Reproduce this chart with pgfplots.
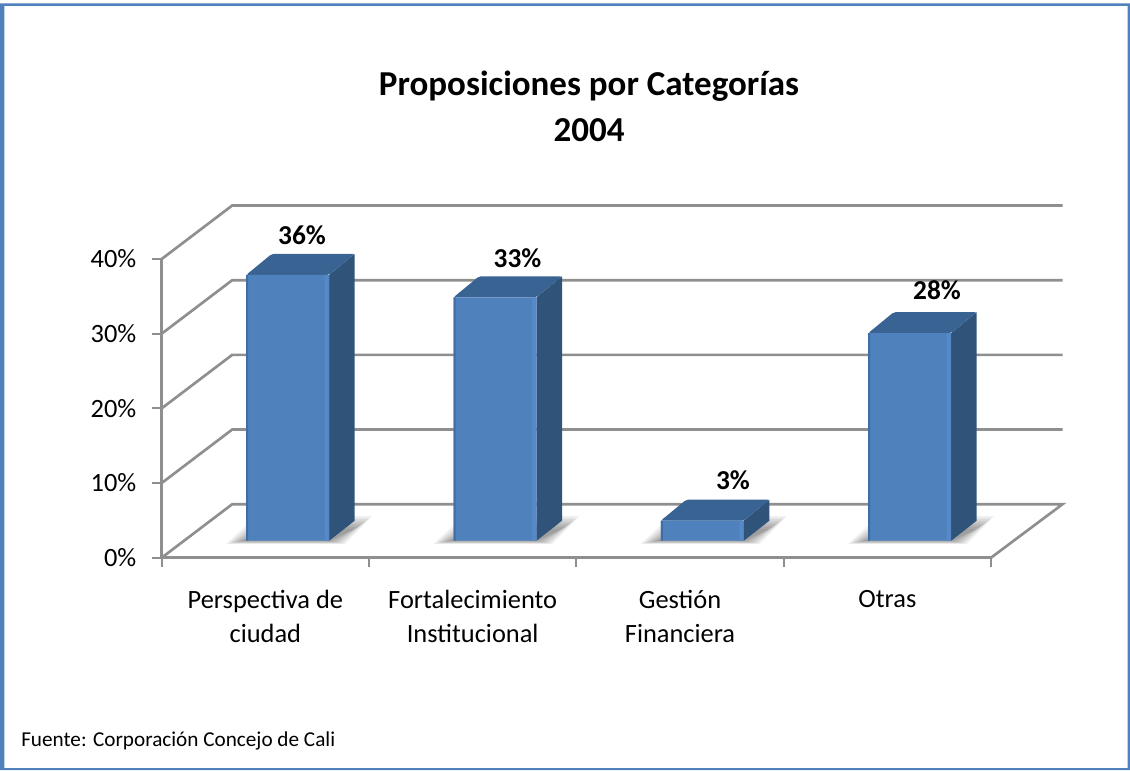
\documentclass[border=0pt]{standalone}
\usepackage{fontspec}
\setmainfont{Carlito}
\usepackage{pgfplots}
\usepackage{pgfplotstable}
\pgfplotsset{compat=1.18}
\definecolor{framec}{HTML}{4F81BD}
\definecolor{frontc}{HTML}{4F81BD}
\definecolor{sidec}{HTML}{30537A}
\definecolor{topc}{HTML}{396392}
\definecolor{darkedge}{HTML}{3F6DA5}
\definecolor{lightedge}{HTML}{5589C8}
\definecolor{gridc}{HTML}{8F8F8F}
\pgfplotstableread{
x v
0.5 35.6
1.5 32.6
2.5 2.7
3.5 27.8
}\barvals
\newcommand\pxc[2]{([shift={({(#1-161.7)*0.75pt},{(557.7-(#2))*0.75pt})}]axis cs:0,0)}
\newcommand\shlayer[2]{\fill[black,fill opacity=0.05] \pxc{#1+226+#2}{544-0.2*#2} -- \pxc{#1+345-#2}{544-0.2*#2} -- \pxc{#1+372-#2}{516+0.8*#2} -- \pxc{#1+256+#2}{516+0.8*#2} -- cycle;}
\newcommand\shadowbar[1]{\shlayer{#1}{0}\shlayer{#1}{2}\shlayer{#1}{4}\shlayer{#1}{6}\shlayer{#1}{8}\shlayer{#1}{10}\shlayer{#1}{12}\shlayer{#1}{14}\shlayer{#1}{16}}
\begin{document}
\begin{tikzpicture}
\begin{axis}[
  scale only axis, width=621.975pt, height=224.025pt,
  xmin=0, xmax=4, ymin=0, ymax=40, clip=false,
  axis x line*=bottom, axis y line*=left,
  axis line style={draw=gridc, line width=2pt, -},
  tick align=outside,
  major tick length=7pt,
  tick style={draw=gridc, line width=1.5pt},
  xtick={0,1,2,3,4},
  x tick label as interval,
  xticklabels={{Perspectiva de\\ciudad},{Fortalecimiento\\Institucional},{Gestión\\Financiera},{Otras}},
  xticklabel style={align=center, font=\fontsize{19.8}{25.5}\selectfont, yshift=-14pt},
  ytick={0,10,20,30,40},
  yticklabel={\pgfmathprintnumber{\tick}\%},
  yticklabel style={font=\fontsize{19.8}{22}\selectfont, xshift=-8.5pt},
  /pgf/number format/assume math mode=true,
]
% walls and floor
\addplot[gridc, line width=2pt] coordinates {(0,0)(0.34,7.16)(4.345,7.16)(4,0)};
\addplot[gridc, line width=2pt] coordinates {(0,10)(0.34,17.16)(4.345,17.16)};
\addplot[gridc, line width=2pt] coordinates {(0,20)(0.34,27.16)(4.345,27.16)};
\addplot[gridc, line width=2pt] coordinates {(0,30)(0.34,37.16)(4.345,37.16)};
\addplot[gridc, line width=2pt] coordinates {(0,40)(0.34,47.16)(4.345,47.16)};
% soft shadows on the floor
\shadowbar{0}
\shadowbar{207.35}
\shadowbar{414.7}
\shadowbar{622.05}
% side faces
\addplot[fill=sidec, draw=none, xshift=16.8pt, yshift=12.75pt] coordinates {(0.7,0)(0.823,2.68)(0.823,38.41)(0.7,35.6)} -- cycle;
\addplot[fill=sidec, draw=none, xshift=16.8pt, yshift=12.75pt] coordinates {(1.7,0)(1.823,2.68)(1.823,35.41)(1.7,32.6)} -- cycle;
\addplot[fill=sidec, draw=none, xshift=16.8pt, yshift=12.75pt] coordinates {(2.7,0)(2.823,2.68)(2.823,5.51)(2.7,2.7)} -- cycle;
\addplot[fill=sidec, draw=none, xshift=16.8pt, yshift=12.75pt] coordinates {(3.7,0)(3.823,2.68)(3.823,30.61)(3.7,27.8)} -- cycle;
% top faces
\addplot[fill=topc, draw=none, rounded corners=1.5pt, xshift=16.8pt, yshift=12.75pt] coordinates {(0.3,35.6)(0.7,35.6)(0.823,38.41)(0.423,38.41)} -- cycle;
\addplot[fill=topc, draw=none, rounded corners=1.5pt, xshift=16.8pt, yshift=12.75pt] coordinates {(1.3,32.6)(1.7,32.6)(1.823,35.41)(1.423,35.41)} -- cycle;
\addplot[fill=topc, draw=none, rounded corners=1.5pt, xshift=16.8pt, yshift=12.75pt] coordinates {(2.3,2.7)(2.7,2.7)(2.823,5.51)(2.423,5.51)} -- cycle;
\addplot[fill=topc, draw=none, rounded corners=1.5pt, xshift=16.8pt, yshift=12.75pt] coordinates {(3.3,27.8)(3.7,27.8)(3.823,30.61)(3.423,30.61)} -- cycle;
% front faces
\addplot[ybar, bar width=62.25pt, bar shift=0pt, fill=frontc, draw=none, xshift=16.8pt, yshift=12.75pt] table[x=x,y=v]{\barvals};
\addplot[ybar, bar width=1.5pt, bar shift=-30.4pt, fill=darkedge, draw=none, xshift=16.8pt, yshift=12.75pt] table[x=x,y=v]{\barvals};
\addplot[ybar, bar width=3pt, bar shift=29.2pt, fill=lightedge, draw=none, xshift=16.8pt, yshift=12.75pt] table[x=x,y=v]{\barvals};
\end{axis}
\begin{scope}[shift={(-121.275pt,418.275pt)}, x=0.75pt, y=-0.75pt]
  % data labels
  \node[font=\fontsize{20.5}{24}\selectfont\bfseries] at (302,235) {36\%};
  \node[font=\fontsize{20.5}{24}\selectfont\bfseries] at (517.5,258) {33\%};
  \node[font=\fontsize{20.5}{24}\selectfont\bfseries] at (733,480) {3\%};
  \node[font=\fontsize{20.5}{24}\selectfont\bfseries] at (937,290) {28\%};
  % title
  \node[align=center, font=\fontsize{26.25}{34.5}\selectfont\bfseries] at (589,106) {Proposiciones por Categorías\\2004};
  % source
  \node[anchor=west, inner sep=0pt, font=\fontsize{15.9}{19}\selectfont] at (21,741) {Fuente: Corporación Concejo de Cali};
  % frame
  \fill[framec, even odd rule] (0,3.3) rectangle (1130,770) (4.5,6) rectangle (1127.5,768);
  \pgfresetboundingbox
  \path[use as bounding box] (0,0) rectangle (1130,770);
\end{scope}
\end{tikzpicture}
\end{document}
